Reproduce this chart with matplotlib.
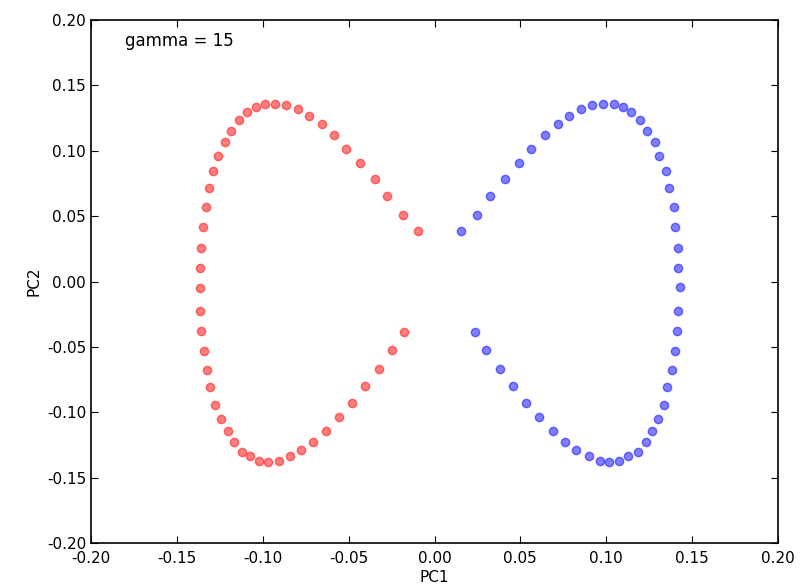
import numpy as np
import matplotlib.pyplot as plt

# red class (upper tip -> around left side -> lower tip)
red_x = [-0.0094, -0.0185, -0.0277, -0.0346, -0.0432, -0.0514, -0.0587, -0.0657, -0.0731, -0.0797,
         -0.0866, -0.0930, -0.0985, -0.1039, -0.1093, -0.1140, -0.1187, -0.1222, -0.1259, -0.1288,
         -0.1313, -0.1332, -0.1350, -0.1360, -0.1367, -0.1367, -0.1367, -0.1360, -0.1342, -0.1323,
         -0.1305, -0.1280, -0.1241, -0.1202, -0.1169, -0.1123, -0.1076, -0.1024, -0.0968, -0.0905,
         -0.0840, -0.0776, -0.0706, -0.0634, -0.0556, -0.0479, -0.0403, -0.0321, -0.0249, -0.0176]
red_y = [0.0389, 0.0509, 0.0652, 0.0784, 0.0906, 0.1011, 0.1120, 0.1205, 0.1263, 0.1322,
         0.1348, 0.1358, 0.1358, 0.1335, 0.1296, 0.1237, 0.1153, 0.1069, 0.0962, 0.0845,
         0.0713, 0.0570, 0.0415, 0.0256, 0.0101, -0.0050, -0.0223, -0.0379, -0.0532, -0.0677,
         -0.0809, -0.0942, -0.1049, -0.1143, -0.1230, -0.1302, -0.1337, -0.1373, -0.1383, -0.1373,
         -0.1337, -0.1289, -0.1228, -0.1146, -0.1036, -0.0929, -0.0799, -0.0667, -0.0524, -0.0389]

# blue class
blue_x = [0.0152, 0.0246, 0.0325, 0.0409, 0.0490, 0.0564, 0.0645, 0.0717, 0.0783, 0.0853,
          0.0917, 0.0979, 0.1043, 0.1099, 0.1144, 0.1198, 0.1237, 0.1284, 0.1309, 0.1346,
          0.1364, 0.1393, 0.1400, 0.1416, 0.1418, 0.1428, 0.1418, 0.1410, 0.1400, 0.1383,
          0.1355, 0.1338, 0.1301, 0.1265, 0.1230, 0.1183, 0.1127, 0.1072, 0.1018, 0.0964,
          0.0900, 0.0826, 0.0762, 0.0688, 0.0608, 0.0535, 0.0455, 0.0380, 0.0300, 0.0236]
blue_y = [0.0389, 0.0509, 0.0652, 0.0784, 0.0904, 0.1011, 0.1120, 0.1205, 0.1263, 0.1322,
          0.1348, 0.1358, 0.1358, 0.1335, 0.1296, 0.1237, 0.1153, 0.1069, 0.0962, 0.0845,
          0.0713, 0.0570, 0.0415, 0.0256, 0.0101, -0.0044, -0.0223, -0.0379, -0.0532, -0.0677,
          -0.0809, -0.0942, -0.1049, -0.1143, -0.1230, -0.1302, -0.1337, -0.1373, -0.1383, -0.1373,
          -0.1337, -0.1289, -0.1228, -0.1143, -0.1036, -0.0929, -0.0799, -0.0667, -0.0524, -0.0389]

ticks = [-0.20, -0.15, -0.10, -0.05, 0.00, 0.05, 0.10, 0.15, 0.20]

fig = plt.figure(figsize=(8.09, 5.87), dpi=100)
ax = fig.add_axes([91/809, 1-543/587, 687/809, 523/587])

ax.scatter(red_x, red_y, color='red', alpha=0.5, s=36, linewidths=1)
ax.scatter(blue_x, blue_y, color='blue', alpha=0.5, s=36, linewidths=1)

ax.text(-0.18, 0.18, 'gamma = 15', fontsize=12)

ax.set_xlim(-0.2, 0.2)
ax.set_ylim(-0.2, 0.2)
ax.set_xticks(ticks)
ax.set_yticks(ticks)
ax.set_xticklabels(['%.2f' % t for t in ticks])
ax.set_yticklabels(['%.2f' % t for t in ticks])
ax.tick_params(direction='in', top=True, right=True, length=5, labelsize=11)
ax.tick_params(axis='x', pad=6)
ax.set_xlabel('PC1', fontsize=11, labelpad=3)
ax.set_ylabel('PC2', fontsize=11, labelpad=4)
for s in ax.spines.values():
    s.set_linewidth(1.2)

fig.savefig('out.png', dpi=100)
